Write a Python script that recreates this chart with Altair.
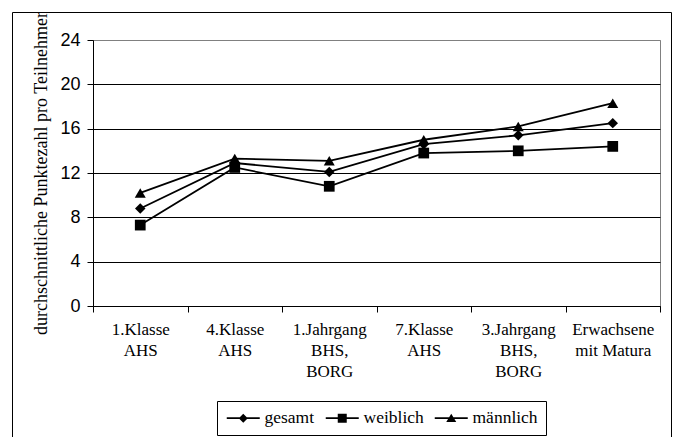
import altair as alt
import pandas as pd

categories = ["1.Klasse|AHS", "4.Klasse|AHS", "1.Jahrgang|BHS,|BORG",
              "7.Klasse|AHS", "3.Jahrgang|BHS,|BORG", "Erwachsene|mit Matura"]
series = ["gesamt", "weiblich", "männlich"]
gesamt = [8.8, 12.9, 12.1, 14.6, 15.4, 16.5]
weiblich = [7.3, 12.5, 10.8, 13.8, 14.0, 14.4]
maennlich = [10.2, 13.3, 13.1, 15.0, 16.2, 18.3]
y_ticks = [0, 4, 8, 12, 16, 20, 24]
y_title = "durchschnittliche Punktezahl pro Teilnehmer"

rows = []
for name, vals in zip(series, [gesamt, weiblich, maennlich]):
    for c, v in zip(categories, vals):
        rows.append({"cat": c, "series": name, "value": v})
df = pd.DataFrame(rows)

x_enc = alt.X("cat:N", sort=categories,
              scale=alt.Scale(type="band", paddingInner=0, paddingOuter=0),
              axis=alt.Axis(title=None, labelExpr="split(datum.label, '|')",
                            labelAngle=0, labelFont="Liberation Serif", labelFontSize=17,
                            labelColor="black", labelLineHeight=21, labelBaseline="top",
                            labelPadding=9, tickBand="extent", tickSize=6,
                            tickColor="black", domainColor="black", grid=False))
y_enc = alt.Y("value:Q", scale=alt.Scale(domain=[0, 24], nice=False),
              axis=alt.Axis(values=y_ticks, title=y_title, titleFont="Liberation Serif",
                            titleFontSize=18, titleFontWeight="normal", titleColor="black",
                            titleX=-47, titleY=133, titleBaseline="alphabetic",
                            labelFont="Liberation Sans", labelFontSize=18, labelColor="black",
                            labelPadding=7, tickSize=6, tickColor="black",
                            domainColor="black", grid=True,
                            gridColor={"condition": {"test": "datum.value === 24", "value": "#808080"},
                                       "value": "black"},
                            gridWidth=1))

lines = alt.Chart(df).mark_line(color="black", strokeWidth=1.8).encode(
    x=x_enc, y=y_enc, detail="series:N")

points = alt.Chart(df).mark_point(filled=True, opacity=1, color="black").encode(
    x=x_enc, y=y_enc,
    shape=alt.Shape("series:N", scale=alt.Scale(domain=series, range=["diamond", "square", "triangle-up"]), legend=None),
    size=alt.Size("series:N", scale=alt.Scale(domain=series, range=[110, 121, 100]), legend=None))

# legend symbols: a thin filled bar (the line) plus a filled marker, in symbol units (1 unit = 6 px)
bar = "M-1.1667,-0.15H4.3333V0.15H-1.1667Z"
legend_paths = [
    bar + "M0.8333,0L1.5833,-0.75L2.3333,0L1.5833,0.75Z",
    bar + "M0.8333,-0.75H2.3333V0.75H0.8333Z",
    bar + "M1.5833,-0.75L2.4167,0.65H0.75Z",
]
legend_layer = alt.Chart(df).mark_point(filled=True, opacity=1, color="black", stroke="black",
                                        strokeWidth=1.5, size=144).transform_filter("false").encode(
    x=x_enc, y=y_enc,
    shape=alt.Shape("series:N", scale=alt.Scale(domain=series, range=legend_paths),
                    legend=alt.Legend(title=None, orient="none", legendX=124, legendY=361,
                                      direction="horizontal", symbolSize=144,
                                      symbolStrokeWidth=1.5, symbolStrokeColor="black",
                                      symbolFillColor="black", labelOffset=22,
                                      labelFont="Liberation Serif", labelFontSize=17.5,
                                      labelColor="black", columnPadding=7, padding=8,
                                      strokeColor="black", fillColor="white")))

frame = alt.Chart(alt.Data(values=[{}])).mark_rect(fill="transparent", stroke="black", strokeWidth=1).encode(
    x=alt.value(-80.5), x2=alt.value(578.5), y=alt.value(-27.5), y2=alt.value(420))

chart = alt.layer(frame, lines, points, legend_layer).resolve_scale(
    shape="independent", size="independent"
).properties(
    width=567, height=266,
    autosize=alt.AutoSizeParams(type="none"),
    padding={"left": 93, "top": 40, "right": 17, "bottom": 131},
    background="white"
).configure_view(stroke="#808080", strokeWidth=1)

chart.save("out.html", embed_options={"renderer": "svg", "actions": False})
